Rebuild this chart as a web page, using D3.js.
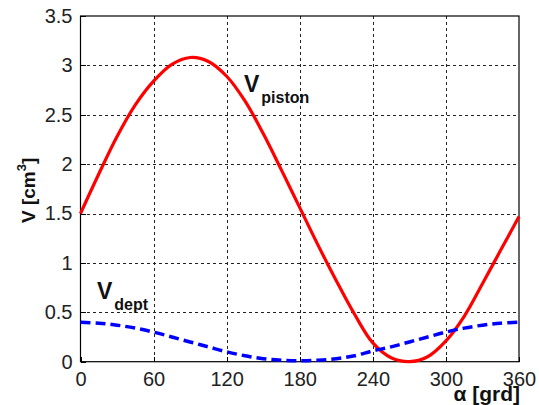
<!DOCTYPE html>
<html>
<head>
<meta charset="utf-8">
<script src="https://cdn.jsdelivr.net/npm/d3@7"></script>
<style>
  html, body { margin: 0; padding: 0; background: #fff; }
  svg { display: block; }
  text { font-family: "Liberation Sans", Arial, sans-serif; }
</style>
</head>
<body>
<svg id="chart" width="539" height="405"></svg>
<script>
// ---- data ----
const alpha = [0, 15, 30, 45, 60, 75, 90, 105, 120, 135, 150, 165, 180,
               195, 210, 225, 240, 255, 270, 285, 300, 315, 330, 345, 360];
const vPiston = [1.50, 1.90, 2.28, 2.60, 2.84, 3.01, 3.08, 3.04, 2.89, 2.64, 2.31, 1.94, 1.56,
                 1.18, 0.82, 0.48, 0.19, 0.04, 0.00, 0.05, 0.21, 0.46, 0.79, 1.13, 1.47];
const vDept = [0.40, 0.39, 0.37, 0.34, 0.30, 0.25, 0.20, 0.15, 0.10, 0.06, 0.03, 0.015, 0.01,
               0.015, 0.03, 0.06, 0.11, 0.15, 0.20, 0.25, 0.30, 0.34, 0.37, 0.39, 0.40];
const xTicks = [0, 60, 120, 180, 240, 300, 360];
const yTicks = [0, 0.5, 1, 1.5, 2, 2.5, 3, 3.5];
const yTickLabels = ["0", "0.5", "1", "1.5", "2", "2.5", "3", "3.5"];

// ---- layout ----
const L = 80.5, R = 519, T = 16, B = 361.7;
const svg = d3.select("#chart");
const x = d3.scaleLinear().domain([0, 360]).range([L, R]);
const y = d3.scaleLinear().domain([0, 3.5]).range([B, T]);

// grid
const grid = svg.append("g").attr("stroke", "#222").attr("stroke-width", 1)
  .attr("stroke-dasharray", "3,3").attr("shape-rendering", "crispEdges");
grid.selectAll("line.v").data(xTicks.slice(1, -1)).enter().append("line")
  .attr("x1", d => Math.round(x(d)) + 0.5).attr("x2", d => Math.round(x(d)) + 0.5)
  .attr("y1", T).attr("y2", B);
grid.selectAll("line.h").data(yTicks.slice(1, -1)).enter().append("line")
  .attr("y1", d => Math.round(y(d)) + 0.5).attr("y2", d => Math.round(y(d)) + 0.5)
  .attr("x1", L).attr("x2", R);

// axes
const xAxis = d3.axisBottom(x).tickValues(xTicks).tickSizeInner(-5).tickSizeOuter(0).tickPadding(10);
const yAxis = d3.axisLeft(y).tickValues(yTicks).tickFormat((d, i) => yTickLabels[i])
  .tickSizeInner(-5).tickSizeOuter(0).tickPadding(8);

const gx = svg.append("g").attr("transform", `translate(0,${B})`).call(xAxis);
const gy = svg.append("g").attr("transform", `translate(${L},0)`).call(yAxis);
[gx, gy].forEach(g => {
  g.select(".domain").remove();
  g.selectAll(".tick line").attr("stroke", "#000").attr("shape-rendering", "crispEdges");
  g.selectAll(".tick text").attr("font-size", 20).attr("fill", "#222")
    .attr("font-family", "'Liberation Sans', Arial, sans-serif");
});

// frame
svg.append("rect").attr("x", L).attr("y", T).attr("width", R - L).attr("height", B - T)
  .attr("fill", "none").attr("stroke", "#000").attr("stroke-width", 1.2);

// lines
const line = vals => d3.line().x((d, i) => x(alpha[i])).y(d => y(d)).curve(d3.curveCatmullRom)(vals);
svg.append("path").attr("d", line(vPiston)).attr("fill", "none")
  .attr("stroke", "#ff0000").attr("stroke-width", 3.2);
svg.append("path").attr("d", line(vDept)).attr("fill", "none")
  .attr("stroke", "#0000ff").attr("stroke-width", 3.5).attr("stroke-dasharray", "10,5");

// curve labels
const lab1 = svg.append("text").attr("x", 244).attr("y", 92).attr("font-weight", "bold").attr("fill", "#111");
lab1.append("tspan").attr("font-size", 23).text("V");
lab1.append("tspan").attr("font-size", 16).attr("dx", 2).attr("dy", 11).text("piston");

const lab2 = svg.append("text").attr("x", 97).attr("y", 299).attr("font-weight", "bold").attr("fill", "#111");
lab2.append("tspan").attr("font-size", 23).text("V");
lab2.append("tspan").attr("font-size", 16).attr("dx", 2).attr("dy", 11).text("dept");

// axis titles
const yl = svg.append("text").attr("transform", "translate(35,223) rotate(-90)")
  .attr("font-weight", "bold").attr("font-size", 19).attr("fill", "#111");
yl.append("tspan").text("V [cm");
yl.append("tspan").attr("font-size", 13).attr("dy", -9).text("3");
yl.append("tspan").attr("dy", 9).text("]");

svg.append("text").attr("x", 520).attr("y", 401).attr("text-anchor", "end")
  .attr("font-weight", "bold").attr("font-size", 21).attr("fill", "#111").text("α [grd]");
</script>
</body>
</html>
